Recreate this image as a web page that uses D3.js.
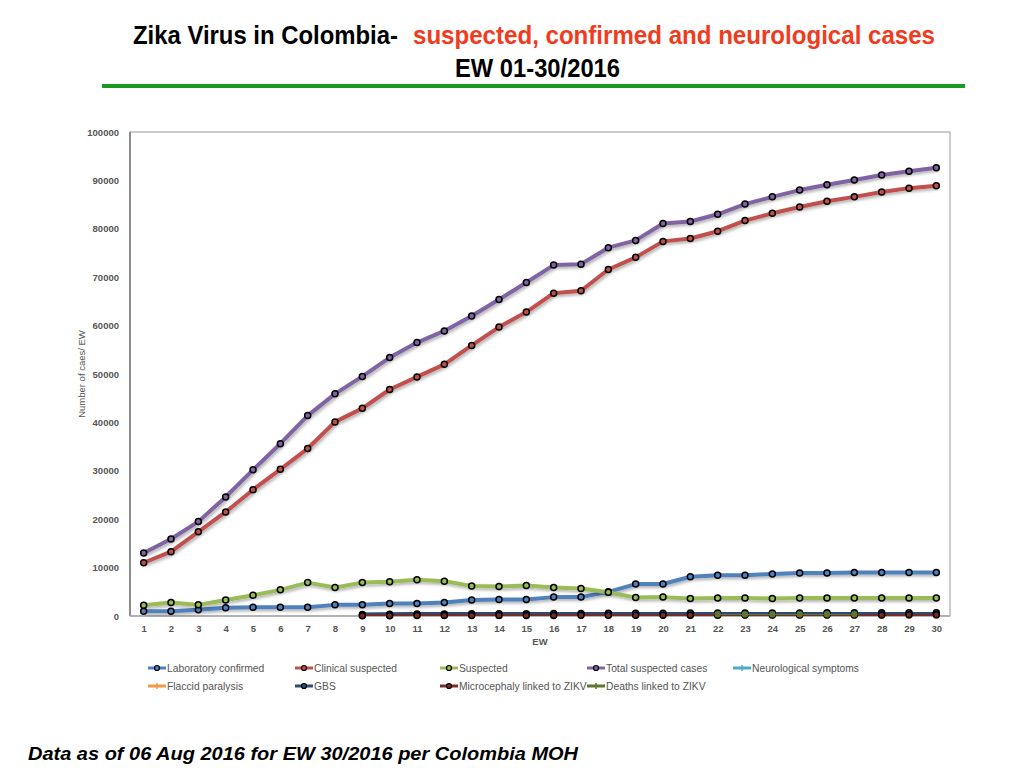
<!DOCTYPE html>
<html>
<head>
<meta charset="utf-8">
<script src="https://cdn.jsdelivr.net/npm/d3@7"></script>
<style>
  body { margin: 0; background: #fff; }
  #chart { width: 1024px; height: 768px; }
  .tick text { font-family: "Liberation Sans", Arial, sans-serif; font-size: 9.5px; font-weight: bold; fill: #555; }
  .legend text { font-family: "Liberation Sans", Arial, sans-serif; font-size: 10.3px; fill: #555; }
</style>
</head>
<body>
<div id="chart"></div>
<script>
// epidemiological weeks
var weeks = [1,2,3,4,5,6,7,8,9,10,11,12,13,14,15,16,17,18,19,20,21,22,23,24,25,26,27,28,29,30];
var yTicks = [0,10000,20000,30000,40000,50000,60000,70000,80000,90000,100000];

// series values (null = no point that week)
var labConfirmed = [1000,1000,1300,1700,1800,1800,1800,2300,2300,2600,2600,2800,3300,3400,3400,3900,3900,5000,6600,6600,8100,8400,8400,8700,8900,8900,9000,9000,9000,9000];
var clinicalSuspected = [11000,13300,17400,21500,26100,30300,34600,40100,42900,46800,49400,52000,55900,59700,62800,66700,67200,71600,74100,77400,78000,79500,81700,83200,84500,85700,86600,87600,88400,88900];
var suspected = [2200,2800,2300,3300,4300,5400,6900,5900,6900,7100,7500,7200,6200,6100,6300,5900,5700,4900,3800,3900,3600,3700,3700,3600,3700,3700,3700,3700,3700,3700];
var totalSuspected = [13000,15900,19500,24600,30200,35600,41400,45900,49500,53400,56500,58900,62000,65400,68900,72500,72700,76100,77600,81100,81500,83000,85100,86600,88000,89100,90100,91100,91900,92600];
var neuroSymptoms = [null,null,null,null,null,null,null,null,250,300,350,380,400,420,440,460,480,500,520,540,560,570,580,590,600,610,620,630,640,650];
var flaccidParalysis = [null,null,null,null,null,null,null,null,20,20,30,30,30,40,40,40,50,50,50,50,60,60,60,60,60,70,70,70,70,70];
var gbs = [null,null,null,null,null,null,null,null,300,350,400,420,450,470,490,510,530,550,570,590,600,610,620,630,640,650,660,670,680,690];
var microcephaly = [null,null,null,null,null,null,null,null,60,70,80,90,100,100,110,120,130,140,150,160,170,180,190,200,210,210,220,230,240,250];
var deaths = [null,null,null,null,null,null,null,null,null,null,null,null,null,null,null,null,null,null,null,null,null,350,350,360,360,370,370,null,null,null];

var seriesNames = ["Laboratory confirmed","Clinical suspected","Suspected","Total suspected cases","Neurological symptoms","Flaccid paralysis","GBS","Microcephaly linked to ZIKV","Deaths linked to ZIKV"];
var seriesValues = [labConfirmed, clinicalSuspected, suspected, totalSuspected, neuroSymptoms, flaccidParalysis, gbs, microcephaly, deaths];
var seriesColors = ["#4f81bd","#c0504d","#9bbb59","#8064a2","#4bacc6","#f79646","#2c4d75","#772c2a","#5f7530"];
var bigMarker = [true,true,true,true,false,false,true,true,false];

var width = 1024, height = 768;
var margin = {top: 132, left: 130, right: 74, bottom: 152};

var svg = d3.select("#chart")
    .append("svg")
    .attr("width", width)
    .attr("height", height);

var defs = svg.append("defs");
var shadow = defs.append("filter").attr("id", "shadow")
    .attr("x", "-5%").attr("y", "-5%").attr("width", "110%").attr("height", "120%");
shadow.append("feDropShadow")
    .attr("dx", 1.5).attr("dy", 2).attr("stdDeviation", 1.5)
    .attr("flood-color", "#000").attr("flood-opacity", 0.3);

// title, squeezed to look like a narrow face
var titleFont = "'Liberation Sans', Arial, sans-serif";
svg.append("text")
    .attr("x", 133).attr("y", 44)
    .attr("textLength", 265).attr("lengthAdjust", "spacingAndGlyphs")
    .style("font-family", titleFont).style("font-size", "26px").style("font-weight", "bold")
    .attr("fill", "#000")
    .text("Zika Virus in Colombia-");
svg.append("text")
    .attr("x", 413).attr("y", 44)
    .attr("textLength", 522).attr("lengthAdjust", "spacingAndGlyphs")
    .style("font-family", titleFont).style("font-size", "26px").style("font-weight", "bold")
    .attr("fill", "#f03c1e")
    .text("suspected,  confirmed and neurological cases");
svg.append("text")
    .attr("x", 455).attr("y", 77)
    .attr("textLength", 165).attr("lengthAdjust", "spacingAndGlyphs")
    .style("font-family", titleFont).style("font-size", "26px").style("font-weight", "bold")
    .attr("fill", "#000")
    .text("EW 01-30/2016");

svg.append("line")
    .attr("x1", 102).attr("x2", 965)
    .attr("y1", 86).attr("y2", 86)
    .attr("stroke", "#1a9a22")
    .attr("stroke-width", 4);

var xScale = d3.scalePoint()
    .domain(weeks)
    .range([margin.left, width - margin.right])
    .padding(0.5);

var yScale = d3.scaleLinear()
    .domain([0, 100000])
    .range([height - margin.bottom, margin.top]);

// plot frame
svg.append("rect")
    .attr("x", margin.left).attr("y", margin.top)
    .attr("width", width - margin.right - margin.left)
    .attr("height", height - margin.bottom - margin.top)
    .attr("fill", "none")
    .attr("stroke", "#999")
    .attr("stroke-width", 1);

svg.append("line")
    .attr("x1", margin.left).attr("x2", margin.left)
    .attr("y1", margin.top).attr("y2", height - margin.bottom)
    .attr("stroke", "#777").attr("stroke-width", 1.5);
svg.append("line")
    .attr("x1", margin.left).attr("x2", width - margin.right)
    .attr("y1", height - margin.bottom).attr("y2", height - margin.bottom)
    .attr("stroke", "#aaa").attr("stroke-width", 1.5);

var yAxis = svg.append("g")
    .attr("transform", `translate(${margin.left - 8},0)`)
    .call(d3.axisLeft(yScale).tickValues(yTicks).tickSize(0).tickFormat(d3.format("d")));
yAxis.select(".domain").remove();

var xAxis = svg.append("g")
    .attr("transform", `translate(0,${height - margin.bottom + 6})`)
    .call(d3.axisBottom(xScale).tickSize(0));
xAxis.select(".domain").remove();

svg.append("text")
    .attr("x", 540).attr("y", 645)
    .attr("text-anchor", "middle")
    .style("font-family", "'Liberation Sans', Arial, sans-serif")
    .style("font-size", "9.5px").style("font-weight", "bold")
    .attr("fill", "#555")
    .text("EW");

svg.append("text")
    .attr("transform", "rotate(-90)")
    .attr("x", -374).attr("y", 85)
    .attr("text-anchor", "middle")
    .style("font-family", "'Liberation Sans', Arial, sans-serif")
    .style("font-size", "9.5px")
    .attr("fill", "#555")
    .text("Number of caes/ EW");

// lines
var line = d3.line()
    .defined(function(d) { return d.v !== null; })
    .x(function(d) { return xScale(d.w); })
    .y(function(d) { return yScale(d.v); });

seriesValues.forEach(function(values, i) {
    var pts = values.map(function(v, j) { return {w: weeks[j], v: v}; });
    var g = svg.append("g");
    g.append("path")
        .datum(pts)
        .attr("d", line)
        .attr("fill", "none")
        .attr("stroke", seriesColors[i])
        .attr("stroke-width", 4)
        .attr("stroke-linejoin", "round")
        .attr("filter", "url(#shadow)");
    g.selectAll("circle")
        .data(pts.filter(function(d) { return d.v !== null; }))
        .enter()
        .append("circle")
            .attr("cx", function(d) { return xScale(d.w); })
            .attr("cy", function(d) { return yScale(d.v); })
            .attr("r", bigMarker[i] ? 3 : 2.5)
            .attr("fill", seriesColors[i])
            .attr("stroke", bigMarker[i] ? "#000" : seriesColors[i])
            .attr("stroke-width", 1.5);
});

// legend
var legendX = [148, 295, 440, 587, 733];
var legend = svg.append("g").attr("class", "legend");
seriesNames.forEach(function(name, i) {
    var row = i < 5 ? 0 : 1;
    var col = i < 5 ? i : i - 5;
    var x = legendX[col], y = 668 + row * 18;
    legend.append("line")
        .attr("x1", x).attr("x2", x + 18)
        .attr("y1", y).attr("y2", y)
        .attr("stroke", seriesColors[i])
        .attr("stroke-width", 3);
    if (bigMarker[i]) {
        legend.append("circle")
            .attr("cx", x + 9).attr("cy", y)
            .attr("r", 2.5)
            .attr("fill", seriesColors[i])
            .attr("stroke", "#000")
            .attr("stroke-width", 1.2);
    } else {
        legend.append("path")
            .attr("d", `M${x + 9},${y - 3}V${y + 3}`)
            .attr("stroke", seriesColors[i])
            .attr("stroke-width", 1.5);
    }
    legend.append("text")
        .attr("x", x + 19).attr("y", y + 3.5)
        .text(name);
});

svg.append("text")
    .attr("x", 28).attr("y", 760)
    .attr("textLength", 550).attr("lengthAdjust", "spacingAndGlyphs")
    .style("font-family", "'Liberation Sans', Arial, sans-serif")
    .style("font-size", "19px")
    .style("font-weight", "bold")
    .style("font-style", "italic")
    .attr("fill", "#000")
    .text("Data as of 06 Aug 2016 for EW 30/2016 per Colombia MOH");
</script>
</body>
</html>
